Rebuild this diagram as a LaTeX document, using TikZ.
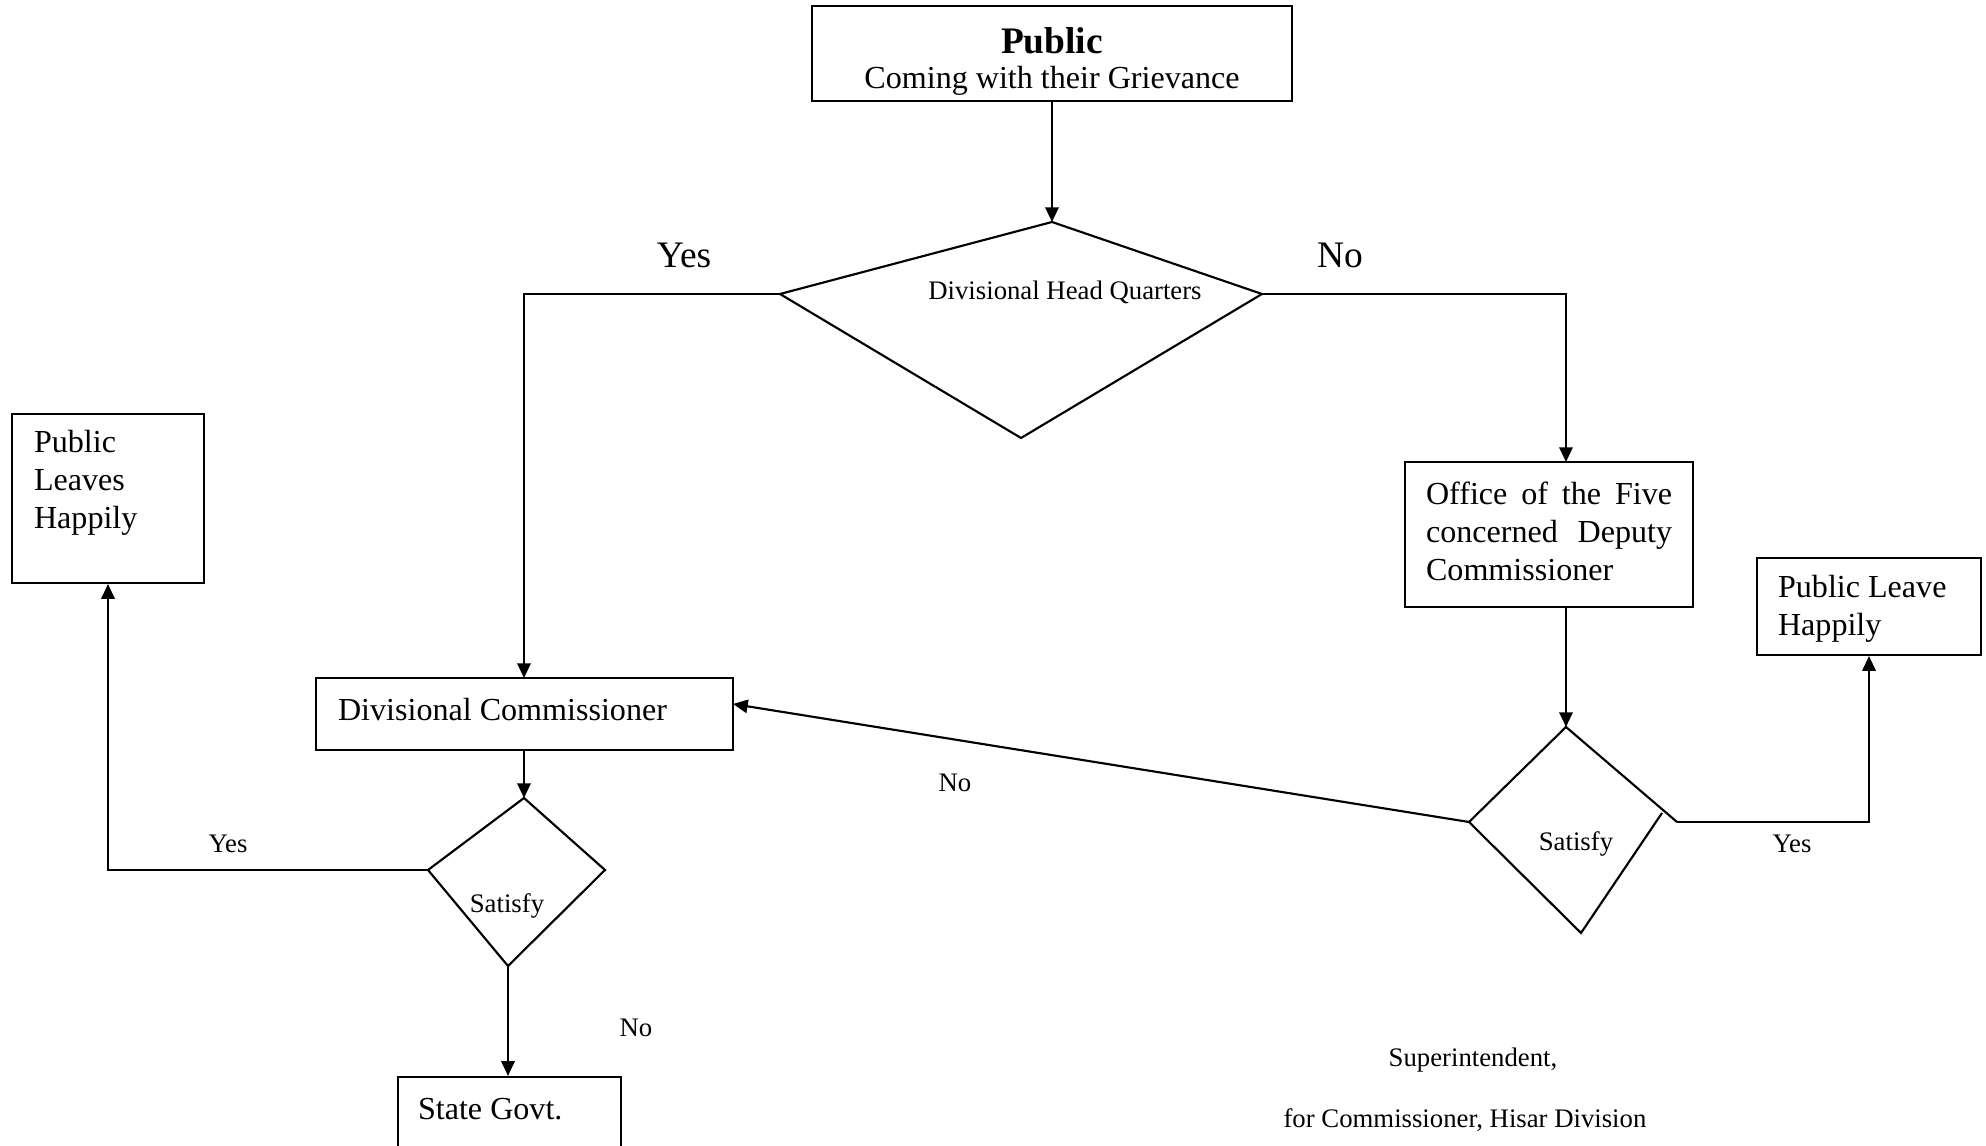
\documentclass[tikz,border=0pt]{standalone}
\usepackage{fontspec}
\setmainfont{Liberation Serif}
\usetikzlibrary{arrows.meta,fit}
\begin{document}
\begin{tikzpicture}[x=0.374pt,y=-0.374pt,line width=0.8pt,
  frame/.style={draw,rectangle,inner sep=0pt},
  big/.style={font=\fontsize{12}{14.2}\selectfont,inner sep=0pt},
  small/.style={font=\fontsize{10}{12}\selectfont,inner sep=0pt},
  lab/.style={font=\fontsize{14}{16}\selectfont,inner sep=0pt},
  arr/.style={-{Triangle[length=5.5pt,width=5pt]}}]
\useasboundingbox (0,0) rectangle (1986,1146);
\clip (0,0) rectangle (1986,1146);
% boxes
\node[frame,fit={(812,6) (1292,101)}] (pub) {};
\node[font=\fontsize{14}{16}\selectfont\bfseries,inner sep=0pt] (pubt) at (1052,41) {Public};
\node[big] (pubs) at (1052,81) {Coming with their Grievance};

\node[frame,fit={(12,414) (204,583)}] (pll) {};
\node[big,anchor=west,align=left] (pllt) at (33,483) {Public\\Leaves\\Happily};

\node[frame,fit={(1405,462) (1693,607)}] (off) {};
\node[big,anchor=west,align=left] (offt) at (1425,531) {\makebox[92pt][s]{Office of the Five}\\\makebox[92pt][s]{concerned Deputy}\\Commissioner};

\node[frame,fit={(1757,558) (1981,655)}] (plh) {};
\node[big,anchor=west,align=left] (plht) at (1777,609) {Public Leave\\Happily};

\node[frame,fit={(316,678) (733,750)}] (dc) {};
\node[big,anchor=west] (dct) at (337,710) {Divisional Commissioner};

\node[frame,fit={(398,1077) (621,1170)}] (sg) {};
\node[big,anchor=west] (sgt) at (417,1109) {State Govt.};

% decision: Divisional Head Quarters
\coordinate (dT) at (1052,222);
\coordinate (dL) at (780,294);
\coordinate (dR) at (1262,294);
\coordinate (dB) at (1021,438);
\draw (dT) -- (dR) -- (dB) -- (dL) -- cycle;
\node[small] (dhq) at (1065,292) {Divisional Head Quarters};

% left satisfy
\coordinate (lT) at (524,798);
\coordinate (lL) at (428,870);
\coordinate (lR) at (605,870);
\coordinate (lB) at (508,966);
\draw (lT) -- (lR) -- (lB) -- (lL) -- cycle;
\node[small] (ls) at (507,906) {Satisfy};

% right satisfy
\coordinate (sT) at (1566,727);
\coordinate (sL) at (1469,822);
\coordinate (sB) at (1581,933);
\coordinate (sR) at (1662,813);
\coordinate (sR2) at (1677,822);
\draw (sR) -- (sB) -- (sL) -- (sT) -- (sR2);
\node[small] (rs) at (1576,844) {Satisfy};

% connector anchors
\coordinate (oin) at (1566,462);
\coordinate (oout) at (1566,607);
\coordinate (dcin) at (733,704);
\coordinate (dctop) at (524,678);
\coordinate (dcbot) at (524,750);

% connectors
\draw[arr] (pub.south -| dT) -- (dT);
\draw[arr] (dL) -| (dctop);
\draw[arr] (dR) -| (oin);
\draw[arr] (oout) -- (sT);
\draw[arr] (sR2) -| (plh.south);
\draw[arr] (sL) -- (dcin);
\draw[arr] (dcbot) -- (lT);
\draw[arr] (lL) -| (pll.south);
\draw[arr] (lB) -- (sg.north -| lB);

% labels
\node[lab] (yes1) at (684,255) {Yes};
\node[lab] (no1) at (1340,255) {No};
\node[small] (yes2) at (228,844) {Yes};
\node[small] (no2) at (636,1028) {No};
\node[small] (no3) at (955,783) {No};
\node[small] (yes3) at (1792,844) {Yes};
\node[small] (sup1) at (1473,1060) {Superintendent,};
\node[small] (sup2) at (1465,1120) {for Commissioner, Hisar Division};
\end{tikzpicture}
\end{document}
